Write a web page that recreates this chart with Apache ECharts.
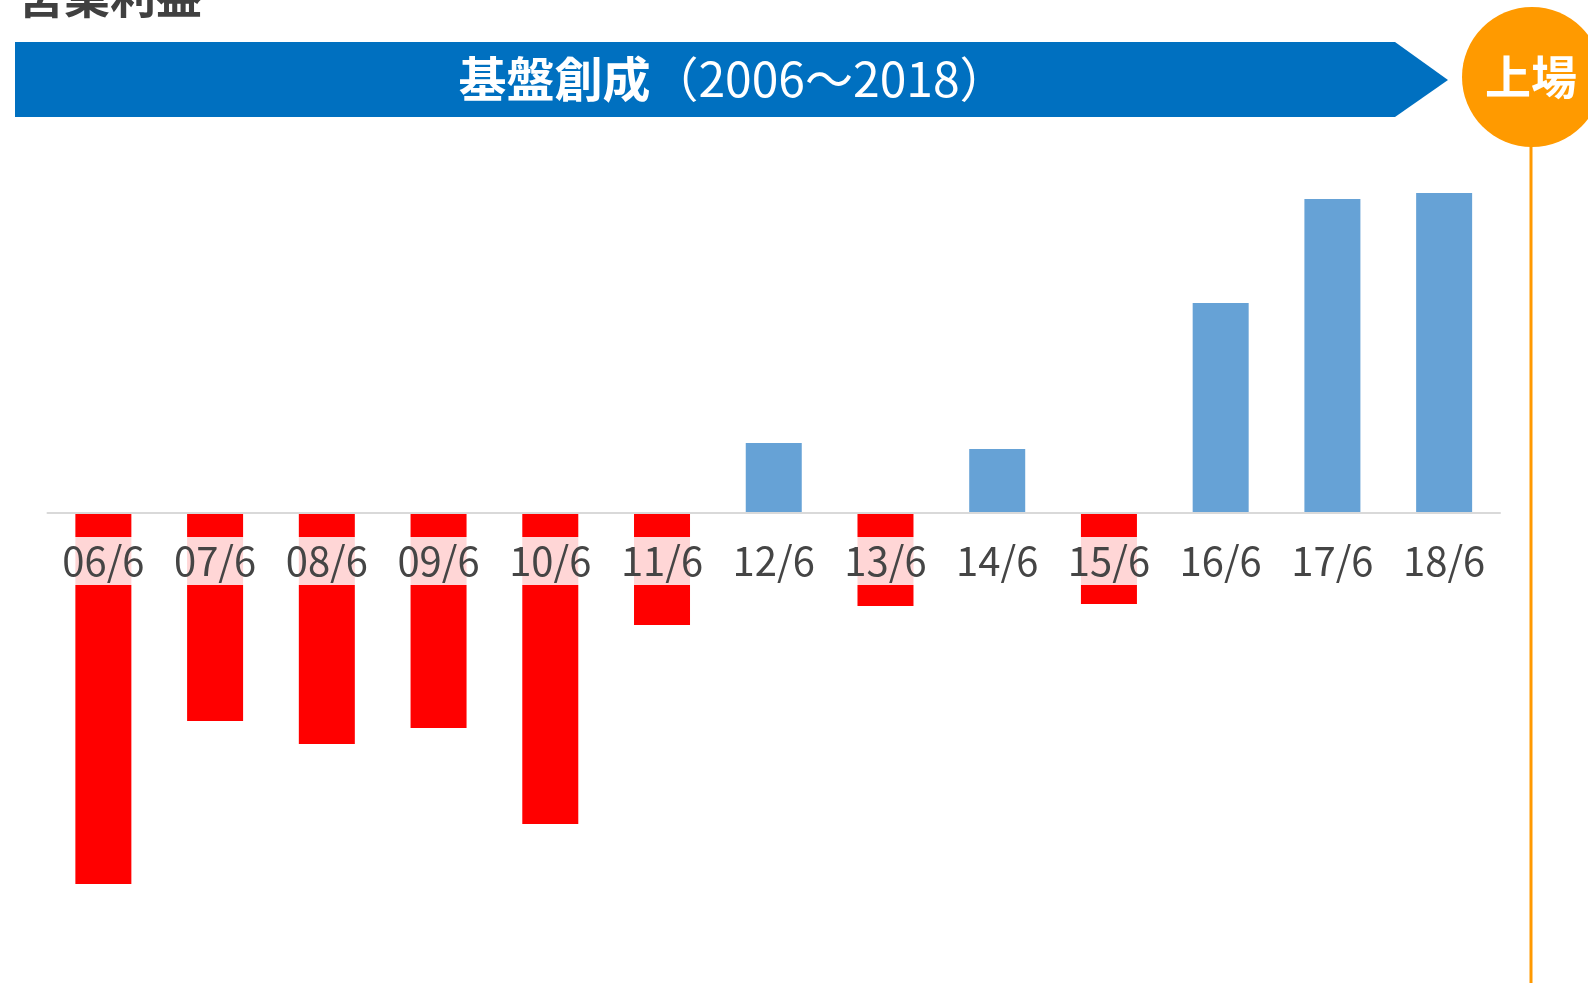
<!DOCTYPE html>
<html>
<head>
<meta charset="utf-8">
<script src="https://cdn.jsdelivr.net/npm/echarts@6/dist/echarts.min.js"></script>
<style>
    html, body {margin: 0; padding: 0; background: #fff;}
    #main {width: 1588px; height: 983px;}
</style>
</head>
<body>
<div id="main"></div>
<script>
// 営業利益 (年度別)
var categories = ['06/6', '07/6', '08/6', '09/6', '10/6', '11/6', '12/6', '13/6', '14/6', '15/6', '16/6', '17/6', '18/6'];
var profit = [-371, -208, -231, -215, -311, -112, 70, -93, 64, -91, 210, 314, 320];

var pageTitle = '営業利益';
var phaseName = '基盤創成';
var phaseYears = '（2006〜2018）';
var ipoText = '上場';

var dom = document.getElementById('main');
var myChart = echarts.init(dom);
var cjk = '"Noto Sans CJK JP", "Noto Sans", sans-serif';

var yMin = -400, yMax = 350;

var option = {
    backgroundColor: '#fff',
    animation: false,
    grid: {left: 47.5, right: 88, top: 163, bottom: 70},
    xAxis: {
        type: 'category',
        data: categories,
        z: 10,
        // 軸を0の位置まで上げる(ラベルも一緒に)
        offset: yMin,
        axisTick: {show: false},
        axisLine: {onZero: false, lineStyle: {color: '#d9d9d9', width: 2}},
        axisLabel: {
            margin: 24,
            color: '#454545',
            fontSize: 40,
            fontFamily: cjk,
            lineHeight: 48,
            backgroundColor: 'rgba(255,255,255,0.84)'
        }
    },
    yAxis: {
        type: 'value',
        show: false,
        min: yMin,
        max: yMax,
        splitLine: {show: false}
    },
    series: [{
        name: pageTitle,
        type: 'bar',
        barWidth: 56,
        data: profit,
        itemStyle: {
            color: function (p) {
                return p.value < 0 ? '#ff0000' : '#66a2d6';
            }
        }
    }],
    graphic: [
        {
            type: 'text',
            left: 18,
            top: -27,
            style: {text: pageTitle, font: 'bold 46px ' + cjk, fill: '#404040'}
        },
        {
            type: 'polygon',
            shape: {points: [[15, 42], [1395, 42], [1448, 80], [1395, 117], [15, 117]]},
            style: {fill: '#0070c0'}
        },
        {
            type: 'text',
            x: 733,
            y: 79,
            style: {
                text: '{b|' + phaseName + '}{n|' + phaseYears + '}',
                align: 'center',
                verticalAlign: 'middle',
                fill: '#fff',
                rich: {
                    b: {fontSize: 48, fontWeight: 'bold', fontFamily: cjk, color: '#fff'},
                    n: {fontSize: 48, fontWeight: 'normal', fontFamily: cjk, color: '#fff'}
                }
            }
        },
        {
            type: 'line',
            shape: {x1: 1531, y1: 140, x2: 1531, y2: 983},
            style: {stroke: '#ff9900', lineWidth: 3}
        },
        {
            type: 'circle',
            shape: {cx: 1532, cy: 77, r: 70},
            style: {fill: '#ff9a00'}
        },
        {
            type: 'text',
            x: 1531,
            y: 77,
            style: {
                text: ipoText,
                align: 'center',
                verticalAlign: 'middle',
                font: 'bold 46px ' + cjk,
                fill: '#fff'
            }
        }
    ]
};
myChart.setOption(option, true);
</script>
</body>
</html>
